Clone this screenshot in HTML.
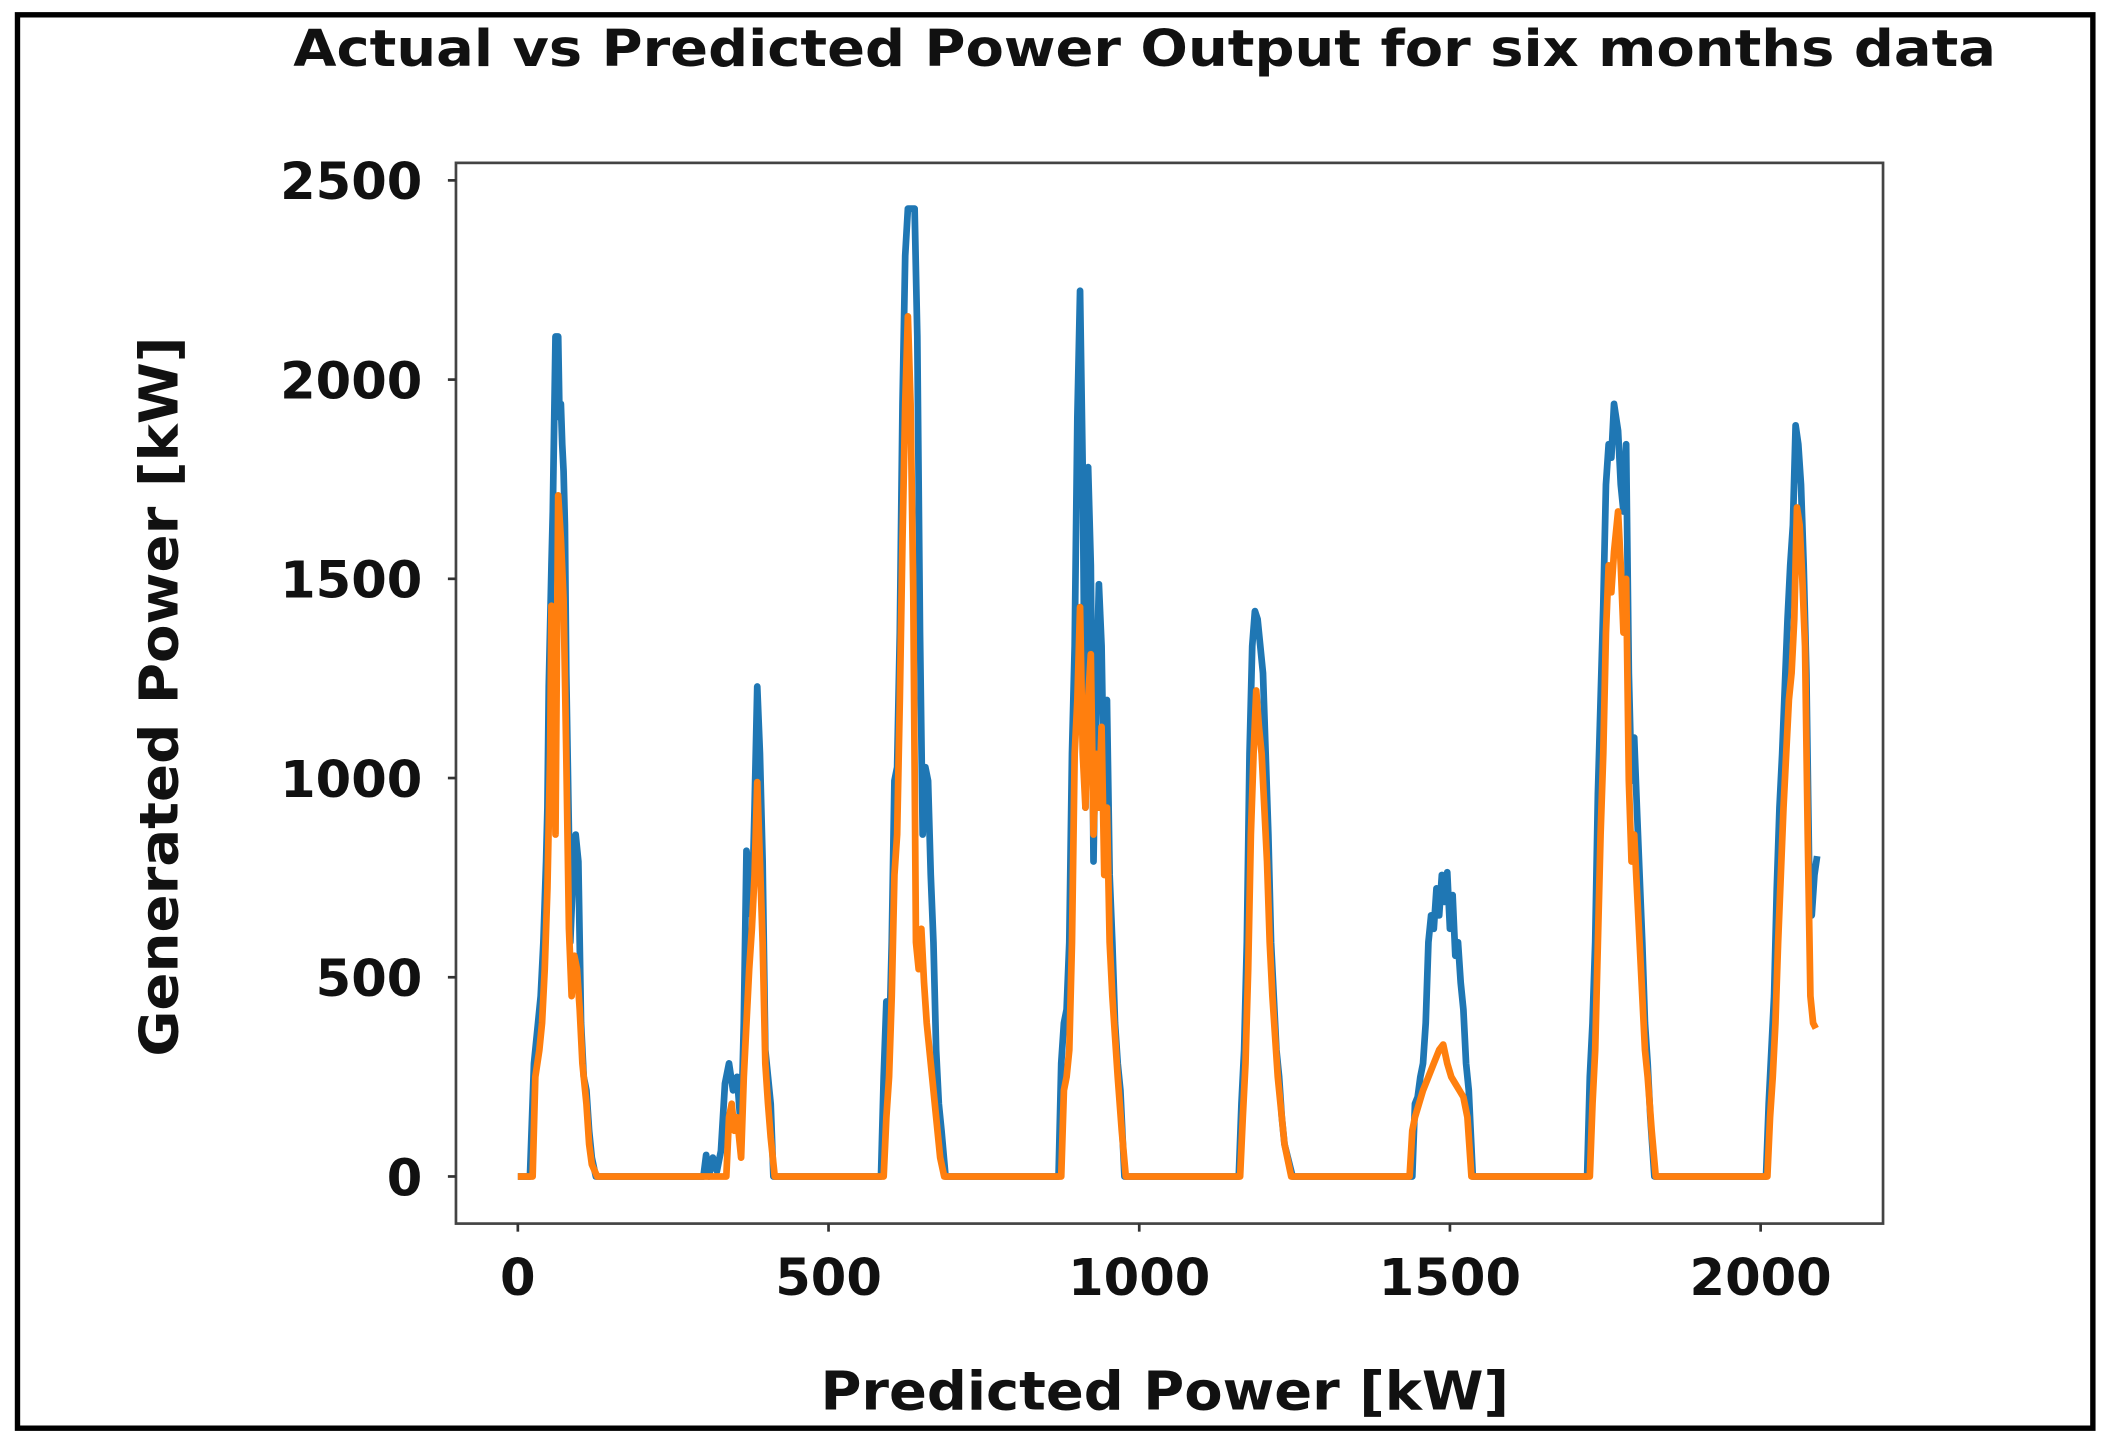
<!DOCTYPE html>
<html><head><meta charset="utf-8"><style>
html,body{margin:0;padding:0;background:#fff;}
svg{display:block;}
text{font-family:"DejaVu Sans","Liberation Sans",sans-serif;font-weight:bold;fill:#111;}
</style></head><body>
<svg width="2109" height="1443" viewBox="0 0 1568 1072" preserveAspectRatio="none" xmlns="http://www.w3.org/2000/svg">
<rect x="0" y="0" width="1568" height="1072" fill="#fff"/>
<rect x="13" y="11" width="1543" height="1050" fill="none" stroke="#000" stroke-width="4"/>
<text x="218" y="49" font-size="38" textLength="1266" lengthAdjust="spacingAndGlyphs">Actual vs Predicted Power Output for six months data</text>
<rect x="339" y="121" width="1061" height="788" fill="none" stroke="#444" stroke-width="2"/>
<g stroke="#333" stroke-width="2">
<line x1="333" y1="874" x2="339" y2="874"/><line x1="333" y1="726" x2="339" y2="726"/><line x1="333" y1="578" x2="339" y2="578"/><line x1="333" y1="430" x2="339" y2="430"/><line x1="333" y1="282" x2="339" y2="282"/><line x1="333" y1="134" x2="339" y2="134"/>
<line x1="385" y1="909" x2="385" y2="915"/><line x1="616" y1="909" x2="616" y2="915"/><line x1="847" y1="909" x2="847" y2="915"/><line x1="1078" y1="909" x2="1078" y2="915"/><line x1="1309" y1="909" x2="1309" y2="915"/>
</g>
<g font-size="38" text-anchor="end">
<text x="314" y="888">0</text><text x="314" y="740">500</text><text x="314" y="592">1000</text><text x="314" y="444">1500</text><text x="314" y="296">2000</text><text x="314" y="148">2500</text>
</g>
<g font-size="38" text-anchor="middle">
<text x="385" y="962">0</text><text x="616" y="962">500</text><text x="847" y="962">1000</text><text x="1078" y="962">1500</text><text x="1309" y="962">2000</text>
</g>
<text x="610" y="1047" font-size="40" textLength="512" lengthAdjust="spacingAndGlyphs">Predicted Power [kW]</text>
<text transform="translate(132,785) rotate(-90)" font-size="40" textLength="535" lengthAdjust="spacingAndGlyphs">Generated Power [kW]</text>
<g fill="none" stroke-width="5" stroke-linejoin="round">
<polyline stroke="#1f77b4" points="385,874 394,874 397,790 400,760 402,740 404,700 406,640 407,600 408,510 410,420 411,380 413,250 415,250 416,310 417,300 418,330 419,350 420,390 421,500 423,620 424,700 426,650 428,620 430,640 431,700 432,760 434,800 436,810 438,840 440,860 443,874 523,874 525,858 527,874 530,860 533,870 536,855 539,805 542,790 545,810 548,800 551,840 553,760 555,632 557,650 559,680 561,600 563,510 565,560 567,640 569,780 571,800 573,820 575,874 655,874 657,800 659,744 661,780 663,700 665,580 667,570 669,470 671,300 673,190 675,155 677,155 680,155 682,250 684,470 686,620 688,570 690,580 692,650 694,700 696,780 698,820 700,840 703,874 787,874 789,790 791,760 793,750 795,700 797,560 799,480 801,310 803,216 805,350 807,600 809,347 811,420 813,640 815,520 817,434 819,480 821,600 823,520 825,650 827,700 829,760 831,790 833,810 836,874 921,874 923,820 925,780 927,700 929,560 931,480 933,454 935,460 937,480 939,500 941,560 943,620 945,700 947,740 949,780 951,800 953,830 955,850 961,874 1050,874 1052,820 1054,815 1056,800 1058,790 1060,760 1062,700 1064,680 1066,690 1068,660 1070,680 1072,650 1074,670 1076,648 1078,690 1080,665 1082,710 1084,700 1086,730 1088,750 1090,790 1092,810 1095,874 1180,874 1182,800 1184,760 1186,700 1188,590 1190,520 1192,450 1194,360 1196,330 1198,340 1200,300 1203,320 1205,360 1207,380 1209,330 1211,500 1213,580 1215,548 1217,600 1219,650 1221,700 1223,760 1225,790 1227,830 1230,874 1313,874 1315,820 1317,780 1319,740 1321,660 1323,600 1325,560 1327,510 1329,460 1331,420 1333,390 1335,316 1337,330 1339,360 1341,420 1343,500 1345,640 1347,680 1349,650 1351,636"/>
<polyline stroke="#ff7f0e" points="385,874 396,874 398,800 401,780 403,760 405,720 407,660 409,560 410,450 412,540 413,620 415,368 417,400 419,445 421,560 423,690 425,740 427,710 429,720 431,750 433,790 436,820 438,850 440,865 444,874 540,874 542,830 544,820 546,840 548,830 551,860 553,800 555,760 557,720 559,690 561,650 563,581 565,640 567,700 569,790 571,820 573,845 576,874 657,874 659,830 661,800 663,740 665,650 667,620 669,520 671,400 673,300 675,235 677,300 679,440 681,700 683,720 685,690 687,730 689,760 691,780 693,800 696,830 699,860 702,874 789,874 791,810 793,800 795,780 797,700 799,560 801,520 803,451 805,560 807,600 809,520 811,486 813,620 815,560 817,600 819,540 821,650 823,600 825,700 827,740 829,770 831,800 834,840 837,874 922,874 924,830 926,790 928,720 930,620 932,560 934,513 936,540 938,560 940,600 942,640 944,700 946,740 948,770 950,800 952,820 955,850 960,874 1048,874 1050,840 1052,830 1055,820 1058,810 1062,800 1066,790 1070,780 1073,776 1076,790 1079,800 1082,805 1085,810 1088,815 1091,830 1094,874 1182,874 1184,820 1186,780 1188,700 1190,620 1192,560 1194,470 1196,420 1198,440 1200,410 1203,380 1205,420 1207,470 1209,430 1211,580 1213,640 1215,620 1217,660 1219,700 1221,740 1223,780 1225,800 1228,840 1231,874 1314,874 1316,830 1318,800 1320,760 1322,700 1324,650 1326,600 1328,560 1330,520 1332,500 1334,460 1336,377 1338,390 1340,430 1342,480 1344,620 1346,740 1348,760 1350,764"/>
</g>
</svg>
</body></html>
